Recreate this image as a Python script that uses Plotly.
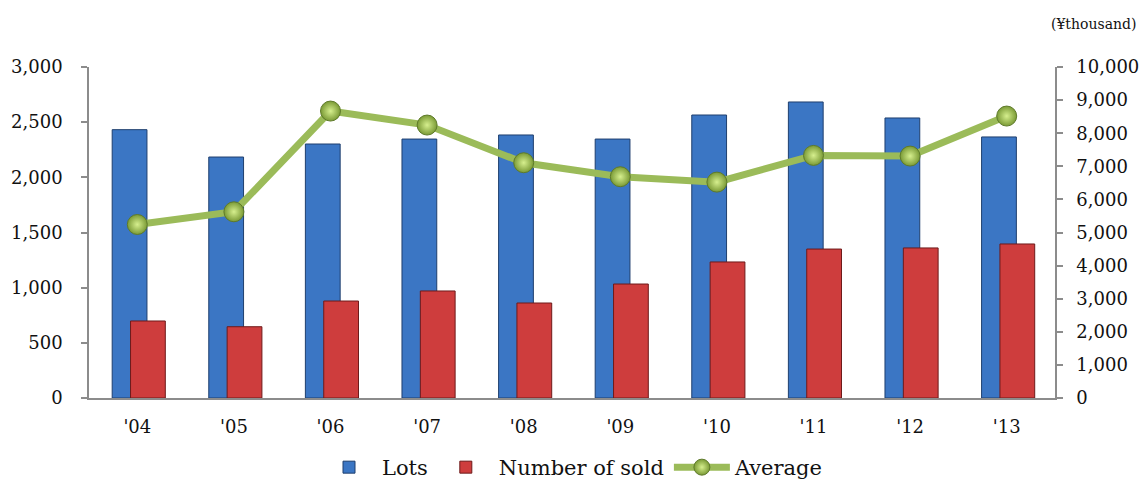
import plotly.graph_objects as go

years = ["'04", "'05", "'06", "'07", "'08", "'09", "'10", "'11", "'12", "'13"]
lots = [2432, 2184, 2302, 2347, 2384, 2347, 2565, 2683, 2538, 2366]
sold = [698, 646, 879, 970, 861, 1033, 1233, 1350, 1360, 1396]
average = [5242, 5626, 8669, 8246, 7108, 6685, 6522, 7329, 7309, 8518]

FONT = "DejaVu Serif"
AXIS_COLOR = "#8c8c8c"

fig = go.Figure()
fig.add_trace(go.Bar(
    x=years, y=lots, name="Lots",
    offset=-0.26, width=0.36,
    marker=dict(color="#3B76C4", line=dict(color="#1F3F6E", width=1)),
))
fig.add_trace(go.Bar(
    x=years, y=sold, name="Number of sold",
    offset=-0.07, width=0.36,
    marker=dict(color="#CE3D3D", line=dict(color="#6E1A1A", width=1)),
))
fig.add_trace(go.Scatter(
    x=years, y=average, name="Average", yaxis="y2",
    mode="lines+markers",
    line=dict(color="#9BBB59", width=7),
    marker=dict(size=20, color="#7A9A35",
                gradient=dict(type="radial", color="#D6EF8E"),
                line=dict(color="#5E7A2A", width=1)),
))

fig.update_layout(
    width=1145, height=479,
    margin=dict(l=89, r=90, t=67, b=81, autoexpand=False),
    paper_bgcolor="white", plot_bgcolor="white",
    barmode="overlay",
    font=dict(family=FONT, size=18, color="#111111"),
    showlegend=True,
    legend=dict(orientation="h", x=0.5, xanchor="center", y=-0.21, yanchor="middle",
                font=dict(family=FONT, size=21), traceorder="normal", itemwidth=56),
    xaxis=dict(
        type="category", showgrid=False, showline=True, linecolor=AXIS_COLOR, linewidth=1.5,
        ticks="", ticklabelstandoff=12, tickfont=dict(family=FONT, size=18),
        range=[-0.5, 9.5], automargin=False,
    ),
    yaxis=dict(
        range=[0, 3000], dtick=500, tickformat=",d", showgrid=False, zeroline=False,
        showline=True, linecolor=AXIS_COLOR, linewidth=1.5,
        ticks="outside", ticklen=6, tickcolor=AXIS_COLOR, tickwidth=1.5,
        tickfont=dict(family=FONT, size=18), ticklabelstandoff=15, automargin=False,
    ),
    yaxis2=dict(
        range=[0, 10000], dtick=1000, tickformat=",d", showgrid=False, zeroline=False,
        overlaying="y", side="right",
        showline=True, linecolor=AXIS_COLOR, linewidth=1.5,
        ticks="outside", ticklen=6, tickcolor=AXIS_COLOR, tickwidth=1.5,
        tickfont=dict(family=FONT, size=18), ticklabelstandoff=10, automargin=False,
    ),
    annotations=[dict(
        text="(¥thousand)", xref="paper", yref="paper", x=1.040, y=1.0,
        xanchor="center", yanchor="middle", yshift=43, showarrow=False,
        font=dict(family=FONT, size=14),
    )],
)

fig.write_html("out.html", config={"displayModeBar": False},
               post_script="document.body.style.margin='0';document.body.style.overflow='hidden';")
